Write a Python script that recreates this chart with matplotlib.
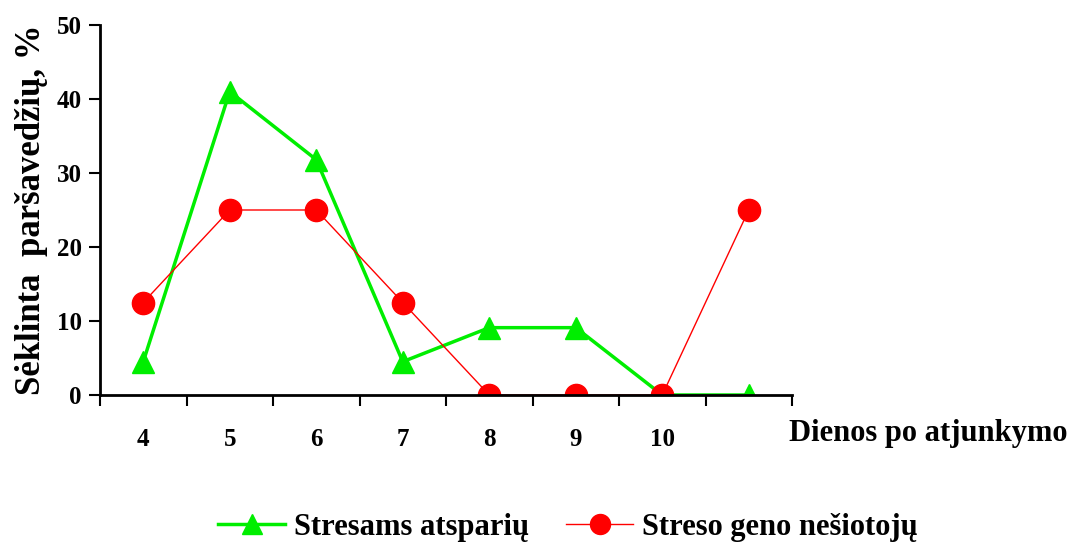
import matplotlib.pyplot as plt
import numpy as np

# days after weaning (last column has no label)
days = ['4', '5', '6', '7', '8', '9', '10', '']
resistant = [4.5, 41.0, 31.8, 4.5, 9.1, 9.1, 0.0, 0.0]
carriers = [12.5, 25.0, 25.0, 12.5, 0.0, 0.0, 0.0, 25.0]

plt.rcParams['font.family'] = ['Liberation Serif', 'DejaVu Serif']
plt.rcParams['font.weight'] = 'bold'

fig = plt.figure(figsize=(10.75, 5.46), dpi=100)
ax = fig.add_axes([100 / 1075, 151 / 546, 692 / 1075, 370 / 546])

x = np.arange(len(days))
ax.plot(x, resistant, color='#00ee00', lw=2.5, marker='^', ms=16,
        label='Stresams atsparių', zorder=3)
ax.plot(x, carriers, color='#ff0000', lw=1, marker='o', ms=16,
        label='Streso geno nešiotojų', zorder=4)

ax.set_xlim(-0.5, len(days) - 0.5)
ax.set_ylim(0, 50)
ax.set_yticks(range(0, 51, 10))
ax.set_xticks(x)
ax.set_xticklabels(days)
ax.set_xticks(np.arange(-0.5, len(days)), minor=True)
ax.tick_params(axis='x', which='major', length=0, pad=24, labelsize=18)
ax.tick_params(axis='x', which='minor', length=8, width=1.5, direction='out')
ax.tick_params(axis='y', length=8, width=1.5, direction='out', labelsize=18, pad=5)
for t in ax.get_xticklabels() + ax.get_yticklabels():
    t.set_fontweight('bold')

for s in ['top', 'right']:
    ax.spines[s].set_visible(False)
for s in ['left', 'bottom']:
    ax.spines[s].set_linewidth(2)
ax.spines['bottom'].set_zorder(5)

ax.set_ylabel('Sėklinta  paršavedžių, %', fontsize=25, fontweight='bold', labelpad=6)
fig.text(789 / 1075, 1 - 433 / 546, 'Dienos po atjunkymo', fontsize=22,
         fontweight='bold', va='center', ha='left')

fig.legend(loc='center', bbox_to_anchor=(568 / 1075, 1 - 527 / 546), ncol=2,
           frameon=False, prop={'weight': 'bold', 'size': 22},
           handlelength=2.2, columnspacing=1.2, handletextpad=0.3, markerscale=0.9)

fig.savefig('out.png', dpi=100)
